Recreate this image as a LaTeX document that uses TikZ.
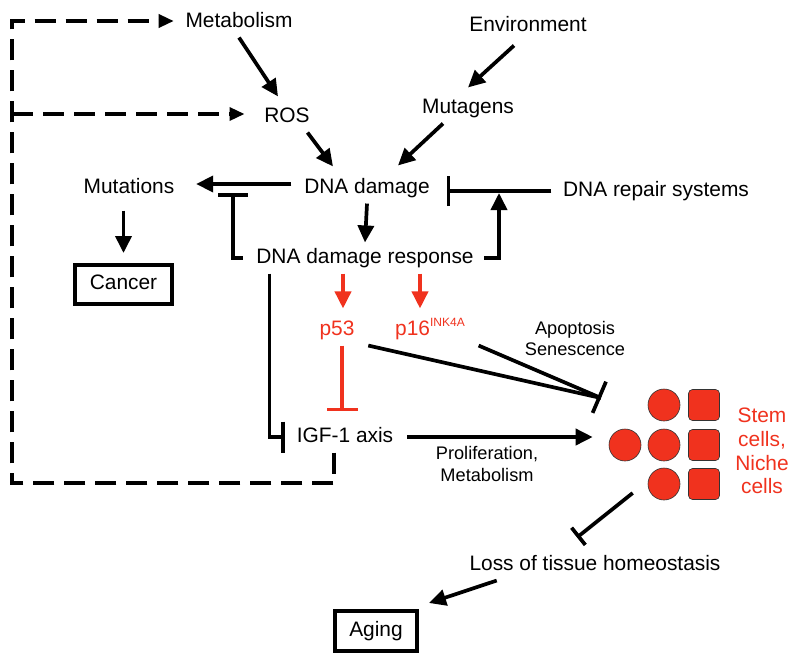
\documentclass[tikz,border=0pt]{standalone}
\usepackage{fontspec}
\setmainfont{Liberation Sans}
\usetikzlibrary{arrows.meta, calc}
\definecolor{cellred}{RGB}{240,50,30}
\tikzset{
    lbl/.style = {font=\fontsize{20.9}{25}\selectfont, inner sep=4pt, text height=15pt, text depth=4.4pt},
    smalllbl/.style = {font=\fontsize{18.2}{22}\selectfont, align=center, inner sep=2pt},
    box/.style = {lbl, draw, line width=4pt},
    arr/.style = {-{Triangle[length=17pt,width=16pt]}},
    inh/.style = {-{Bar[width=#1]}},
    inh/.default = 30pt,
    fb/.style = {dash pattern=on 21pt off 10pt, line width=3.4pt, -{Triangle[length=15pt,width=13pt]}},
    stemcell/.style = {circle, draw=black!80, fill=cellred, line width=0.6pt, minimum size=32pt, inner sep=0pt},
    nichecell/.style = {rectangle, rounded corners=4pt, draw=black!80, fill=cellred, line width=0.6pt, minimum size=31pt, inner sep=0pt},
}
\begin{document}
\begin{tikzpicture}[x=1pt, y=-1pt, line width=3.7pt]
\useasboundingbox (0,0) rectangle (800,662);

\node[lbl] (met) at (239,22) {Metabolism};
\node[lbl] (env) at (528,26) {Environment};
\node[lbl] (ros) at (287,117) {ROS};
\node[lbl] (mutg) at (468,108) {Mutagens};
\draw[arr] (met.south) -- ([xshift=-9pt,yshift=5pt]ros.north);
\draw[arr] ([xshift=-14pt,yshift=-4pt]env.south) -- ([yshift=5pt]mutg.north);

\node[lbl] (dna) at (367,188) {DNA damage};
\draw[arr] ([xshift=-8pt]ros.south east) -- ([xshift=-34pt,yshift=6pt]dna.north);
\draw[arr] ([xshift=-25pt]mutg.south) -- ([xshift=31pt,yshift=7pt]dna.north);

\node[lbl] (mutn) at (129,188) {Mutations};
\draw[arr] ([xshift=-7pt,yshift=4pt]dna.west) -- ([xshift=16pt,yshift=4pt]mutn.east);

\node[box, minimum width=97pt, minimum height=39pt] (cancer) at (123.5,284.5) {Cancer};
\draw[arr] ([yshift=-7pt]mutn.south -| cancer.north) -- ([yshift=10pt]cancer.north);

\node[lbl] (rep) at (656,191) {DNA repair systems};
\draw[inh] ([xshift=-6pt]rep.west) -- ($(rep.west -| dna.east)+(11,0)$);

\node[lbl] (ddr) at (365,258) {DNA damage response};
\draw[arr] (dna.south) -- (ddr.north);

\coordinate (mutbar) at (233,193);
\draw[inh] ([xshift=-8pt]ddr.west) -| (mutbar);

\coordinate (repin) at (499,191);
\draw[arr] ([xshift=5pt]ddr.east) -| ([yshift=-2pt]repin);

% p53 / p16
\node[lbl, text=cellred] (p53) at (337,330) {p53};
\node[lbl, text=cellred] (p16) at (430,330) {p16\raisebox{9pt}{\fontsize{12}{12}\selectfont INK4A}};
\draw[arr, cellred] ([xshift=6pt]p53.north |- ddr.south) -- ([xshift=6pt,yshift=6pt]p53.north);
\draw[arr, cellred] ([xshift=-10pt]p16.north |- ddr.south) -- ([xshift=-10pt,yshift=6pt]p16.north);

\node[lbl] (igf) at (345,437) {IGF-1 axis};
\draw[inh=31pt, cellred] ([xshift=5pt]p53.south) -- ([xshift=-3pt,yshift=10pt]igf.north);
\draw[inh=31pt] ([xshift=19pt]ddr.south west) |- ([xshift=-6pt]igf.west);

% cells
\node[stemcell] (c1) at (664,405) {};
\node[stemcell] (c2) at (625,445) {};
\node[stemcell] (c3) at (664,445) {};
\node[stemcell] (c4) at (664,484) {};
\node[nichecell] (n1) at (704,405) {};
\node[nichecell] (n2) at (704,445) {};
\node[nichecell] (n3) at (704,484) {};
\node[font=\fontsize{20.9}{23.7}\selectfont, align=center, text=cellred] (stem) at (762,451) {Stem\\cells,\\Niche\\cells};

\draw[arr] ([xshift=8pt]igf.east) -- ($(igf.east -| c2.west)+(-16,0)$);
\node[smalllbl] (prolif) at (487,464) {Proliferation,\\Metabolism};

\node[smalllbl, font=\fontsize{18.2}{21}\selectfont] (apop) at (575,338) {Apoptosis\\Senescence};
\coordinate (apbar) at (601,398);
\draw ([xshift=8pt]p53.south east) -- (apbar);
\draw[inh=34pt] ([xshift=8pt]p16.south east) -- (apbar);

\node[lbl] (loss) at (595,565) {Loss of tissue homeostasis};
\draw[inh=22pt] ([shift={(-15,9)}]c4.west) -- ([shift={(-18,-12)}]loss.north);

\node[box, minimum width=82pt, minimum height=40pt] (aging) at (376,631) {Aging};
\draw[arr] ([xshift=33pt]loss.south west) -- ([shift={(10,-6)}]aging.north east);

% feedback
\coordinate (fbc) at (12,483);
\draw[fb] ([xshift=-11pt]igf.south) |- (fbc) |- ([xshift=-6pt,yshift=1pt]met.west);
\draw[fb] ([yshift=3pt]fbc |- ros.west) -- ([xshift=-14pt,yshift=3pt]ros.west);
\end{tikzpicture}
\end{document}
